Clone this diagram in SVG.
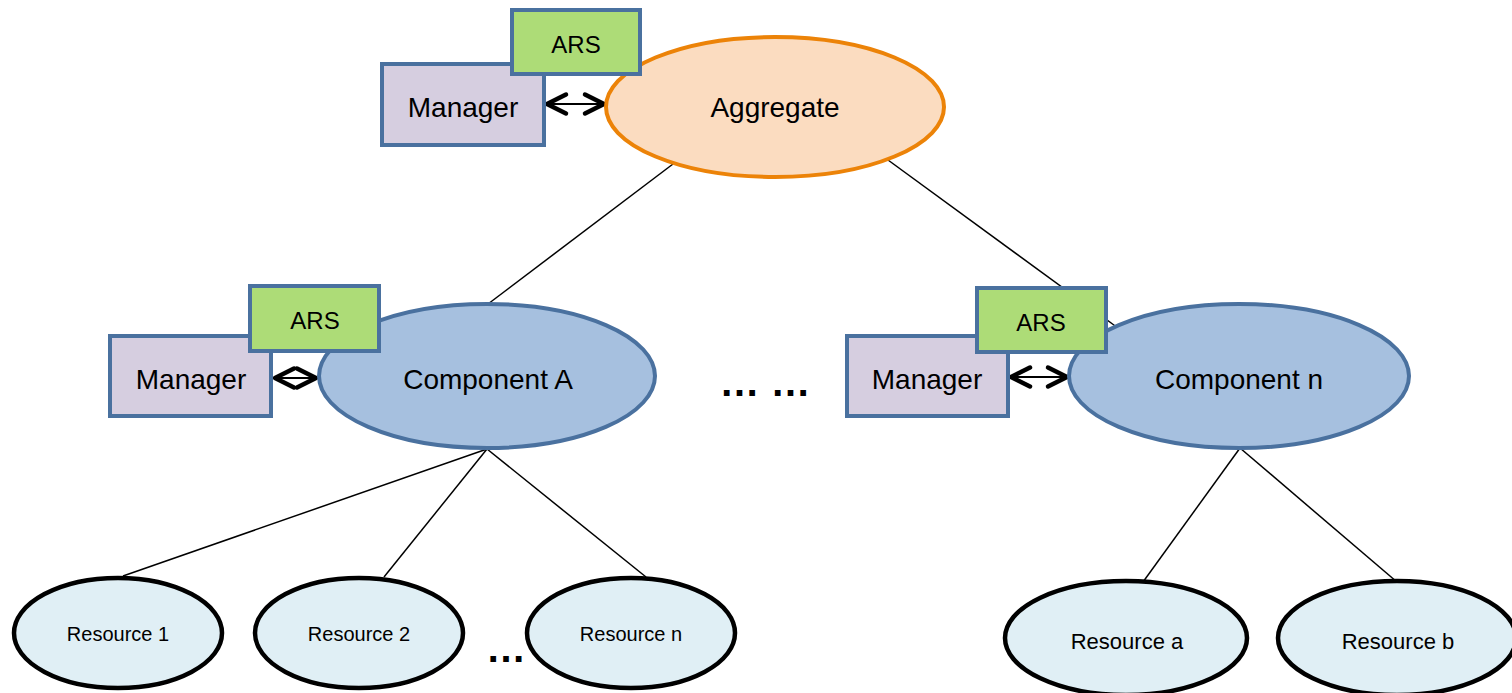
<svg xmlns="http://www.w3.org/2000/svg" width="1512" height="693" viewBox="0 0 1512 693">
<defs>
<style>
text{font-family:"Liberation Sans",Arial,sans-serif;fill:#000;text-anchor:middle;dominant-baseline:central}
.agg{fill:#FBDCC0;stroke:#EC8308;stroke-width:4}
.comp{fill:#A6C0DF;stroke:#4A719F;stroke-width:4}
.mgr{fill:#D6CEE0;stroke:#4A719F;stroke-width:4}
.ars{fill:#ADDC77;stroke:#4A719F;stroke-width:4}
.res{fill:#E0EFF5;stroke:#000;stroke-width:4.5}
.edge{stroke:#000;stroke-width:1.5;fill:none}
.dbl{stroke:#000;stroke-width:2;fill:none;marker-start:url(#chev);marker-end:url(#chev)}
.big{font-size:28px}
.dots{font-size:40px;font-weight:bold}
.ars-t{font-size:24px}
.rs{font-size:20px}
.rl{font-size:22px}
</style>
<marker id="chev" markerUnits="userSpaceOnUse" viewBox="-24 -14 28 28" refX="0" refY="0" markerWidth="28" markerHeight="28" orient="auto-start-reverse">
<path d="M-19,-9.5 L0,0 L-19,9.5" fill="none" stroke="#000" stroke-width="4.5" stroke-linecap="round" stroke-linejoin="round"/>
</marker>
</defs>

<g id="connectors">
<line class="edge" x1="673" y1="164" x2="488" y2="304"/>
<line class="edge" x1="888" y1="160" x2="1118" y2="328"/>
<line class="edge" x1="487" y1="449" x2="123" y2="576"/>
<line class="edge" x1="487" y1="449" x2="384" y2="577"/>
<line class="edge" x1="487" y1="449" x2="646" y2="577"/>
<line class="edge" x1="1240" y1="448" x2="1143" y2="582"/>
<line class="edge" x1="1240" y1="448" x2="1397" y2="582"/>
<line class="dbl" x1="547" y1="104" x2="604" y2="104"/>
<line class="dbl" x1="275" y1="378" x2="316" y2="378"/>
<line class="dbl" x1="1011" y1="377" x2="1067" y2="377"/>
</g>

<g id="aggregate">
<ellipse class="agg" cx="775" cy="107" rx="169" ry="70"/>
<text class="big" x="775" y="107">Aggregate</text>
</g>
<g id="manager-top">
<rect class="mgr" x="382" y="64" width="162" height="81"/>
<text class="big" x="463" y="107">Manager</text>
</g>
<g id="ars-top">
<rect class="ars" x="512" y="10" width="128" height="64"/>
<text class="ars-t" x="576" y="44">ARS</text>
</g>

<g id="component-a">
<ellipse class="comp" cx="487" cy="376" rx="168" ry="72"/>
<text class="big" x="488" y="379">Component A</text>
</g>
<g id="manager-a">
<rect class="mgr" x="110" y="336" width="161" height="80"/>
<text class="big" x="191" y="379">Manager</text>
</g>
<g id="ars-a">
<rect class="ars" x="250" y="286" width="129" height="65"/>
<text class="ars-t" x="315" y="320">ARS</text>
</g>

<g id="ellipsis-mid">
<text class="dots" x="765" y="382">… …</text>
</g>

<g id="component-n">
<ellipse class="comp" cx="1239" cy="376" rx="170" ry="72"/>
<text class="big" x="1239" y="379">Component n</text>
</g>
<g id="manager-n">
<rect class="mgr" x="847" y="336" width="161" height="80"/>
<text class="big" x="927" y="379">Manager</text>
</g>
<g id="ars-n">
<rect class="ars" x="977" y="288" width="129" height="64"/>
<text class="ars-t" x="1041" y="322">ARS</text>
</g>

<g id="resource-1">
<ellipse class="res" cx="118" cy="633" rx="104" ry="55"/>
<text class="rs" x="118" y="634">Resource 1</text>
</g>
<g id="resource-2">
<ellipse class="res" cx="359" cy="633" rx="104" ry="55"/>
<text class="rs" x="359" y="634">Resource 2</text>
</g>
<g id="ellipsis-bottom">
<text class="dots" x="506" y="648">…</text>
</g>
<g id="resource-n">
<ellipse class="res" cx="631" cy="633" rx="104" ry="55"/>
<text class="rs" x="631" y="634">Resource n</text>
</g>
<g id="resource-a">
<ellipse class="res" cx="1126" cy="638" rx="121" ry="57"/>
<text class="rl" x="1127" y="641">Resource a</text>
</g>
<g id="resource-b">
<ellipse class="res" cx="1397" cy="638" rx="119" ry="57"/>
<text class="rl" x="1398" y="641">Resource b</text>
</g>
</svg>
